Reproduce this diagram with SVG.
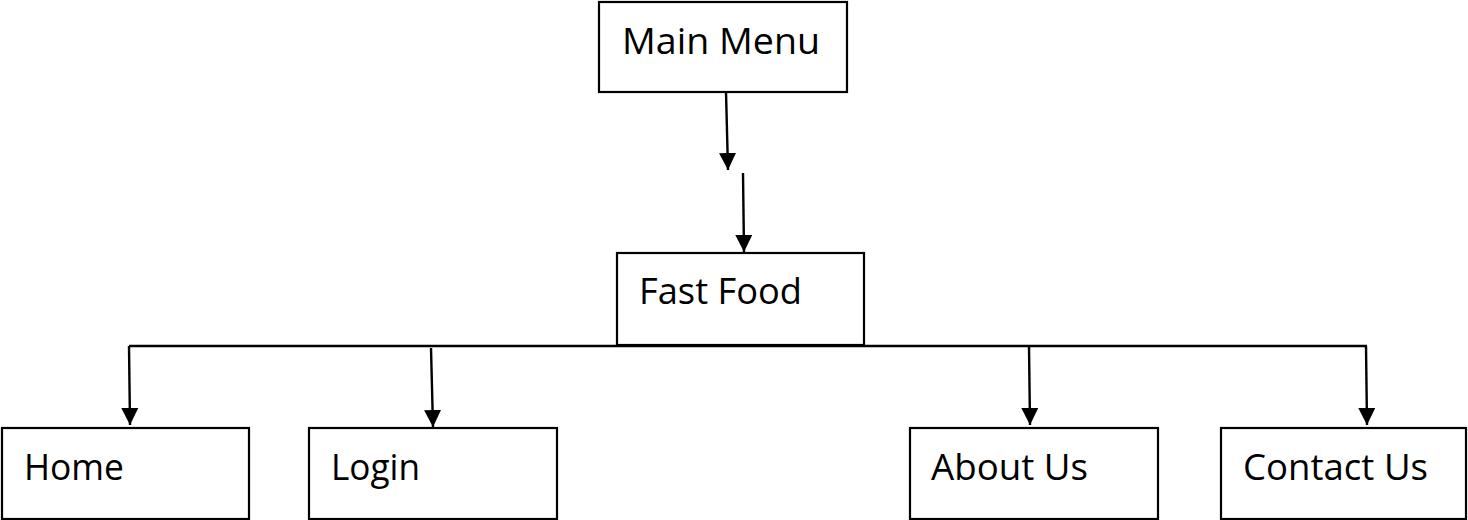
<svg xmlns="http://www.w3.org/2000/svg" width="1468" height="520" viewBox="0 0 1468 520">
<style>
.box{fill:#fff;stroke:#000;stroke-width:2.2}
.lbl{font-family:"Open Sans","Liberation Sans",sans-serif;font-size:37px;fill:#000}
.ln{stroke:#000;stroke-width:2.4;fill:none}
</style>
<defs>
<marker id="ah" markerUnits="userSpaceOnUse" markerWidth="17" markerHeight="17" viewBox="0 0 17 17" refX="17" refY="8.5" orient="auto">
<path d="M0,0 L17,8.5 L0,17 Z" fill="#000"/>
</marker>
</defs>
<g id="connectors">
<line class="ln" x1="726" y1="92" x2="728" y2="170" marker-end="url(#ah)"/>
<line class="ln" x1="743" y1="173" x2="744" y2="252" marker-end="url(#ah)"/>
<line class="ln" x1="129" y1="346" x2="1367" y2="346"/>
<line class="ln" x1="129" y1="346" x2="130" y2="425" marker-end="url(#ah)"/>
<line class="ln" x1="431" y1="348" x2="433" y2="427" marker-end="url(#ah)"/>
<line class="ln" x1="1029" y1="346" x2="1030" y2="425" marker-end="url(#ah)"/>
<line class="ln" x1="1366" y1="346" x2="1367" y2="425" marker-end="url(#ah)"/>
</g>
<g id="main-menu">
<rect class="box" x="599" y="2" width="248" height="90"/>
<text class="lbl" x="622" y="54" textLength="198" lengthAdjust="spacingAndGlyphs">Main Menu</text>
</g>
<g id="fast-food">
<rect class="box" x="617" y="253" width="247" height="92"/>
<text class="lbl" x="639" y="304" textLength="163" lengthAdjust="spacingAndGlyphs">Fast Food</text>
</g>
<g id="home">
<rect class="box" x="2" y="428" width="247" height="91"/>
<text class="lbl" x="24" y="480" textLength="100" lengthAdjust="spacingAndGlyphs">Home</text>
</g>
<g id="login">
<rect class="box" x="309" y="428" width="248" height="91"/>
<text class="lbl" x="331" y="480" textLength="89" lengthAdjust="spacingAndGlyphs">Login</text>
</g>
<g id="about-us">
<rect class="box" x="910" y="428" width="248" height="91"/>
<text class="lbl" x="931" y="480" textLength="157" lengthAdjust="spacingAndGlyphs">About Us</text>
</g>
<g id="contact-us">
<rect class="box" x="1221" y="428" width="245" height="91"/>
<text class="lbl" x="1243" y="480" textLength="185" lengthAdjust="spacingAndGlyphs">Contact Us</text>
</g>
</svg>
